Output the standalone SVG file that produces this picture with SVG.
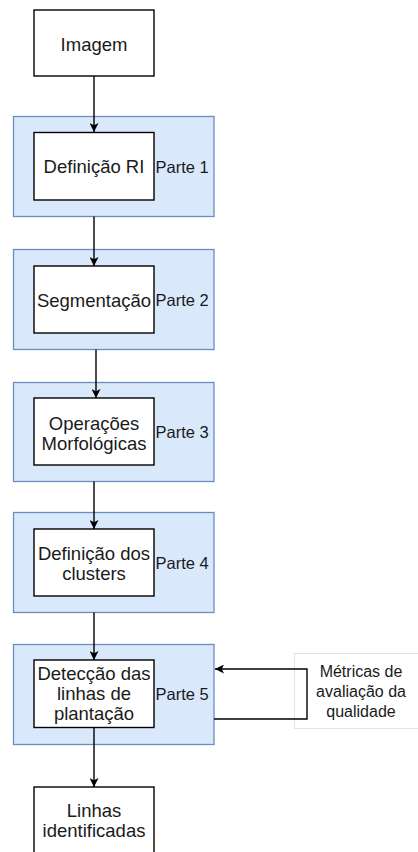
<svg xmlns="http://www.w3.org/2000/svg" width="418" height="852" viewBox="0 0 418 852">
<style>
.bg{fill:#ffffff}
.cont{fill:#dae8fc;stroke:#6c8ebf;stroke-width:1.3}
.box{fill:#ffffff;stroke:#000000;stroke-width:1.4}
.ext{fill:#ffffff;stroke:#e2e2e2;stroke-width:1}
.lbl{font-family:"Liberation Sans",Arial,Helvetica,sans-serif;font-size:18.5px;fill:#1a1a1a;text-anchor:middle}
.part{font-family:"Liberation Sans",Arial,Helvetica,sans-serif;font-size:16.5px;fill:#1a1a1a}
.mlbl{font-family:"Liberation Sans",Arial,Helvetica,sans-serif;font-size:16px;fill:#1a1a1a;text-anchor:middle}
.edge{fill:none;stroke:#000000;stroke-width:1.4}
</style>
<defs>
<marker id="arr" viewBox="0 0 10 10" refX="10" refY="5" markerWidth="9" markerHeight="9" markerUnits="userSpaceOnUse" orient="auto">
<path d="M0,0 L10,5 L0,10 L2.5,5 Z" fill="#000000"/>
</marker>
</defs>
<rect class="bg" x="0" y="0" width="418" height="852"/>

<g id="parte1">
<rect class="cont" x="13.5" y="116.5" width="200.5" height="100"/>
<text class="part" x="155.5" y="173">Parte 1</text>
</g>
<g id="parte2">
<rect class="cont" x="13.5" y="249.5" width="200.5" height="100"/>
<text class="part" x="155.5" y="306">Parte 2</text>
</g>
<g id="parte3">
<rect class="cont" x="13.5" y="382.5" width="200.5" height="99"/>
<text class="part" x="155.5" y="438">Parte 3</text>
</g>
<g id="parte4">
<rect class="cont" x="13.5" y="512.5" width="200.5" height="100"/>
<text class="part" x="155.5" y="569">Parte 4</text>
</g>
<g id="parte5">
<rect class="cont" x="13.5" y="644.5" width="200.5" height="100"/>
<text class="part" x="155.5" y="700">Parte 5</text>
</g>

<g id="metricas">
<rect class="ext" x="294.5" y="653.5" width="134" height="75"/>
<text class="mlbl" x="361" y="677">Métricas de</text>
<text class="mlbl" x="361" y="697">avaliação da</text>
<text class="mlbl" x="361" y="717">qualidade</text>
</g>

<g id="connectors">
<path class="edge" d="M94,76 V132" marker-end="url(#arr)"/>
<path class="edge" d="M94,216.5 V266" marker-end="url(#arr)"/>
<path class="edge" d="M96,349.5 V398" marker-end="url(#arr)"/>
<path class="edge" d="M94,481.5 V529" marker-end="url(#arr)"/>
<path class="edge" d="M94,612.5 V660" marker-end="url(#arr)"/>
<path class="edge" d="M94,727.5 V787" marker-end="url(#arr)"/>
<path class="edge" d="M214,719 H307 V669 H215" marker-end="url(#arr)"/>
</g>

<g id="imagem">
<rect class="box" x="34" y="10" width="120" height="66"/>
<text class="lbl" x="94" y="50.5">Imagem</text>
</g>
<g id="definicao-ri">
<rect class="box" x="34" y="132.5" width="120" height="67.5"/>
<text class="lbl" x="94" y="173">Definição RI</text>
</g>
<g id="segmentacao">
<rect class="box" x="34" y="266" width="120" height="67"/>
<text class="lbl" x="94" y="306.5">Segmentação</text>
</g>
<g id="operacoes">
<rect class="box" x="34" y="398" width="120" height="67"/>
<text class="lbl" x="94" y="429.5">Operações</text>
<text class="lbl" x="94" y="449.5">Morfológicas</text>
</g>
<g id="clusters">
<rect class="box" x="34" y="529" width="120" height="67"/>
<text class="lbl" x="94" y="559.5">Definição dos</text>
<text class="lbl" x="94" y="580">clusters</text>
</g>
<g id="deteccao">
<rect class="box" x="34" y="660" width="120" height="67.5"/>
<text class="lbl" x="94" y="680">Detecção das</text>
<text class="lbl" x="94" y="700">linhas de</text>
<text class="lbl" x="94" y="719.5">plantação</text>
</g>
<g id="linhas-identificadas">
<rect class="box" x="34" y="787" width="120" height="70"/>
<text class="lbl" x="94" y="817">Linhas</text>
<text class="lbl" x="94" y="837">identificadas</text>
</g>
</svg>
